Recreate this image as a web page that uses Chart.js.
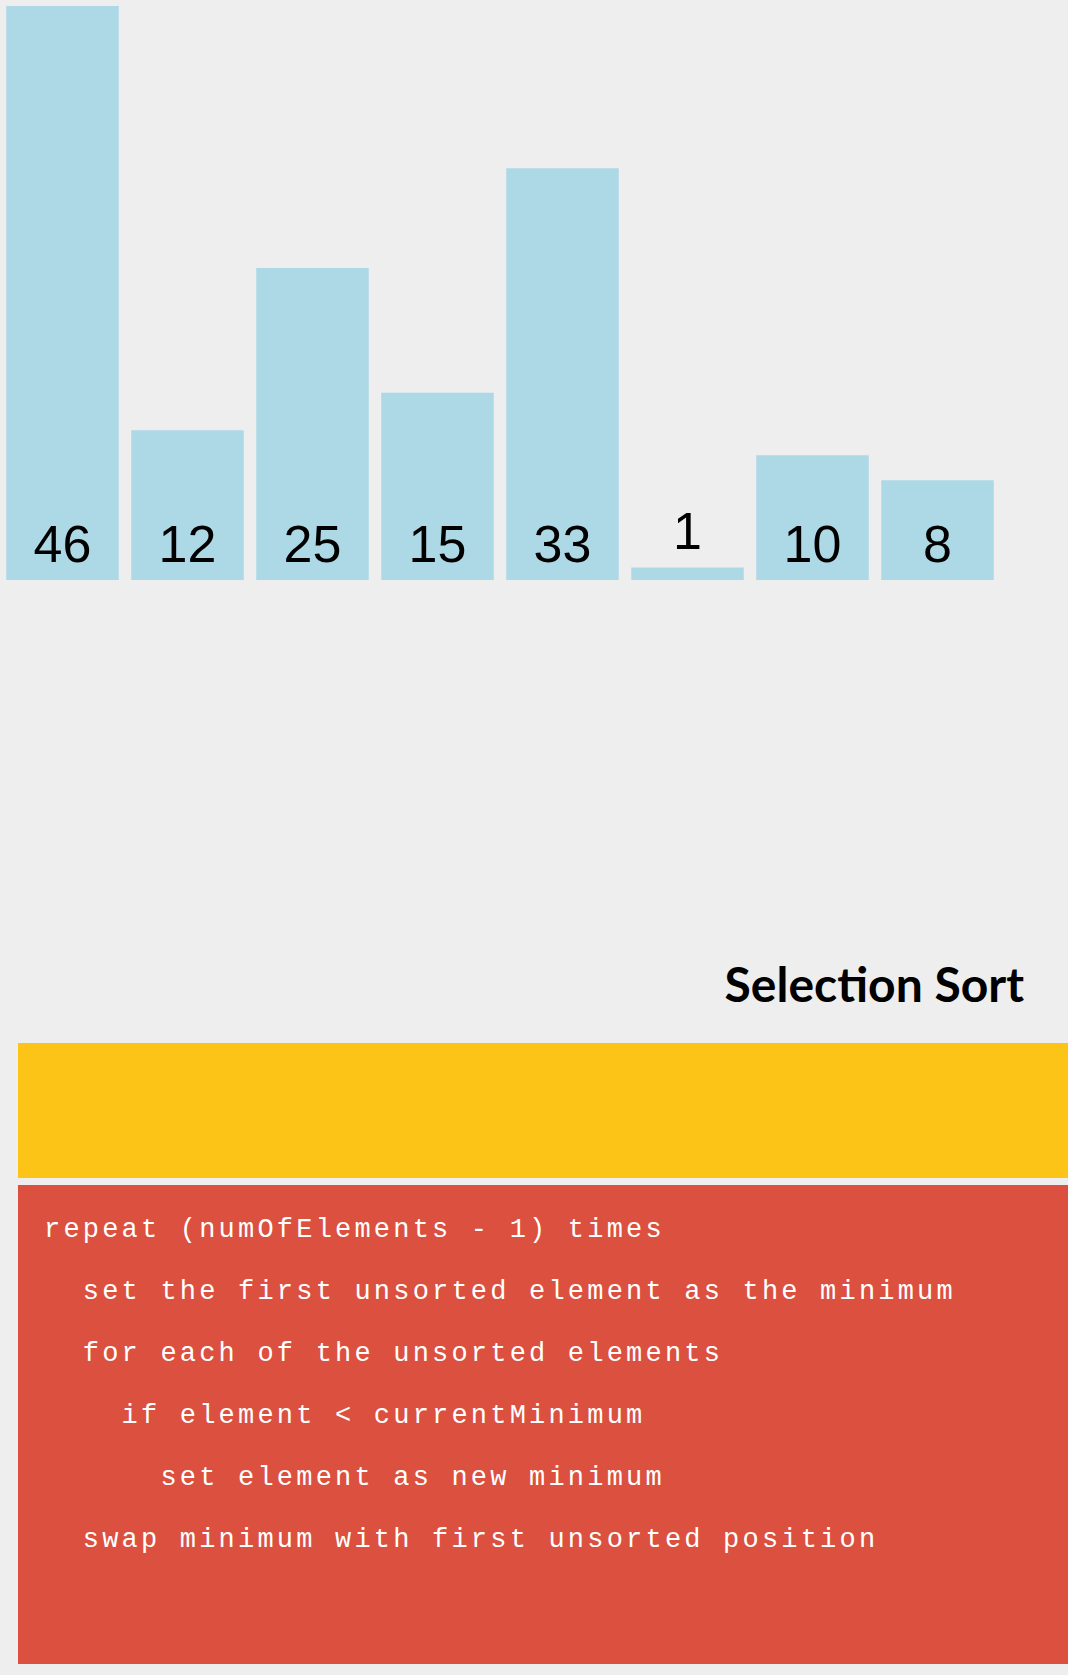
<!DOCTYPE html>
<html>
<head>
<meta charset="utf-8">
<script src="https://cdn.jsdelivr.net/npm/chart.js@4"></script>
<style>
  html, body { margin: 0; padding: 0; background: #eeeeee; }
  body { width: 1068px; height: 1675px; position: relative; overflow: hidden; }
  #chartWrap { position: absolute; left: 0; top: 0; width: 1000px; height: 600px; }
  #title { position: absolute; right: 44px; top: 954px; font-family: Lato, "Noto Sans", sans-serif; font-weight: bold; font-size: 48px; color: #000; line-height: 60px; white-space: nowrap; }
  #yellow { position: absolute; left: 18px; top: 1043px; width: 1050px; height: 135px; background: #fdc418; }
  #red { position: absolute; left: 18px; top: 1185px; width: 1050px; height: 479px; background: #db503e; }
  #code { position: absolute; left: 44px; top: 1199px; margin: 0; font-family: "Liberation Mono", "Courier New", monospace; font-size: 27px; letter-spacing: 3.2px; line-height: 62px; color: #ffffff; white-space: pre; }
</style>
</head>
<body>
<div id="chartWrap"><canvas id="c"></canvas></div>
<div id="title">Selection Sort</div>
<div id="yellow"></div>
<div id="red"></div>
<pre id="code"></pre>
<script>
const categories = ["0", "1", "2", "3", "4", "5", "6", "7"];
const values = [46, 12, 25, 15, 33, 1, 10, 8];
const codeLines = [
  "repeat (numOfElements - 1) times",
  "  set the first unsorted element as the minimum",
  "  for each of the unsorted elements",
  "    if element < currentMinimum",
  "      set element as new minimum",
  "  swap minimum with first unsorted position"
];

document.getElementById('code').textContent = codeLines.join('\n');

const barLabels = {
  id: 'barLabels',
  afterDatasetsDraw(chart) {
    const ctx = chart.ctx;
    const meta = chart.getDatasetMeta(0);
    ctx.save();
    ctx.font = '52px "Liberation Sans", Arial, sans-serif';
    ctx.fillStyle = '#000000';
    ctx.textAlign = 'center';
    ctx.textBaseline = 'alphabetic';
    meta.data.forEach((bar, i) => {
      const base = bar.base;
      const top = bar.y;
      const y = (base - top) > 60 ? base - 18 : top - 19;
      ctx.fillText(String(values[i]), bar.x, y);
    });
    ctx.restore();
  }
};

new Chart(document.getElementById('c'), {
  type: 'bar',
  data: {
    labels: categories,
    datasets: [{
      data: values,
      backgroundColor: '#add8e6',
      borderWidth: 0,
      categoryPercentage: 1.0,
      barPercentage: 0.9
    }]
  },
  options: {
    responsive: true,
    maintainAspectRatio: false,
    animation: false,
    layout: { padding: { top: 6, bottom: 20, left: 0, right: 0 } },
    plugins: { legend: { display: false }, tooltip: { enabled: false } },
    scales: {
      x: { display: false },
      y: { display: false, min: 0, max: 46 }
    }
  },
  plugins: [barLabels]
});
</script>
</body>
</html>
